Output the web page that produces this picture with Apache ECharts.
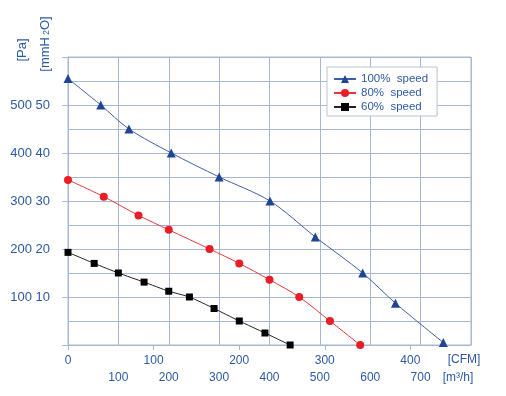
<!DOCTYPE html>
<html>
<head>
<meta charset="utf-8">
<script src="https://cdn.jsdelivr.net/npm/echarts@6/dist/echarts.min.js"></script>
<style>html,body{margin:0;padding:0;background:#fff}#c{width:506px;height:396px}</style>
</head>
<body>
<div id="c"></div>
<script>
// Air flow in m3/h, pressure in Pa
const flow100 = [0, 65, 121, 205, 300, 401, 491, 585, 650, 745];
const pres100 = [555, 500, 450, 400, 350, 300, 225, 150, 87, 5];
const flow80 = [0, 71, 140, 200, 281, 340, 400, 459, 520, 580];
const pres80 = [344, 309, 270, 240, 200, 170, 136, 100, 50, 0];
const flow60 = [0, 52, 100, 151, 200, 241, 290, 340, 391, 441];
const pres60 = [193, 170, 150, 131, 112, 100, 76, 50, 25, 0];
const seriesNames = ['100%  speed', '80%  speed', '60%  speed'];
const cfmTicks = [0, 100, 200, 300, 400];
const m3hTicks = [100, 200, 300, 400, 500, 600, 700];
const paTicks = [100, 200, 300, 400, 500];
const mmTicks = [10, 20, 30, 40, 50];

const BLUE_TXT = '#2d5aa3';
const GRID = '#a6b8d4';
const FONT = '"Liberation Sans", Arial, sans-serif';
const M3H_PER_CFM = 1.699;

function pairs(xs, ys) { return xs.map((x, i) => [x, ys[i]]); }

const chart = echarts.init(document.getElementById('c'), null, {renderer: 'canvas'});
chart.setOption({
  animation: false,
  backgroundColor: '#fff',
  textStyle: {fontFamily: FONT},
  grid: {left: 68, right: 35, top: 57, bottom: 51, show: true, borderColor: GRID, borderWidth: 1, containLabel: false},
  legend: {
    orient: 'vertical', left: 327, top: 67,
    backgroundColor: '#fff', borderColor: '#b9c4d4', borderWidth: 1,
    padding: [6, 9, 3, 6], itemGap: 2, itemWidth: 22, itemHeight: 10,
    textStyle: {color: BLUE_TXT, fontSize: 11.5, fontFamily: FONT},
    data: seriesNames
  },
  xAxis: [
    {
      type: 'value', min: 0, max: 800, interval: 100, position: 'bottom',
      axisLine: {show: true, lineStyle: {color: GRID, width: 1}},
      axisTick: {show: false},
      splitLine: {show: true, lineStyle: {color: GRID, width: 1}},
      axisLabel: {
        margin: 27, color: BLUE_TXT, fontSize: 12, fontFamily: FONT,
        formatter: v => (m3hTicks.indexOf(v) >= 0 ? String(v) : '')
      }
    },
    {
      type: 'value', min: 0, max: 800 / M3H_PER_CFM, interval: 100, position: 'bottom',
      axisLine: {show: false},
      axisTick: {show: true, length: 5, lineStyle: {color: GRID}, customValues: cfmTicks},
      splitLine: {show: false},
      axisLabel: {
        margin: 10, color: BLUE_TXT, fontSize: 12, fontFamily: FONT, customValues: cfmTicks,
        formatter: v => (cfmTicks.indexOf(v) >= 0 ? String(v) : '')
      }
    }
  ],
  yAxis: [
    {
      type: 'value', min: 0, max: 600, interval: 50, position: 'left',
      axisLine: {show: true, lineStyle: {color: GRID}},
      axisTick: {show: false},
      axisLabel: {show: false},
      splitLine: {show: true, lineStyle: {color: GRID, width: 1}}
    },
    {
      type: 'value', min: 0, max: 600, interval: 100, position: 'left',
      axisLine: {show: false},
      axisTick: {show: true, length: 6, lineStyle: {color: GRID}},
      splitLine: {show: false},
      axisLabel: {
        margin: 36, color: BLUE_TXT, fontSize: 13, fontFamily: FONT,
        formatter: v => (paTicks.indexOf(v) >= 0 ? String(v) : '')
      }
    },
    {
      type: 'value', min: 0, max: 60, interval: 10, position: 'left',
      axisLine: {show: false},
      axisTick: {show: false},
      splitLine: {show: false},
      axisLabel: {
        margin: 18, color: BLUE_TXT, fontSize: 13, fontFamily: FONT,
        formatter: v => (mmTicks.indexOf(v) >= 0 ? String(v) : '')
      }
    }
  ],
  graphic: [
    {type: 'text', x: 22, y: 50, rotation: Math.PI / 2,
     style: {text: '[Pa]', fill: BLUE_TXT, font: '13px ' + FONT, align: 'center', verticalAlign: 'middle'}},
    {type: 'text', x: 45, y: 44, rotation: Math.PI / 2,
     style: {text: '[mmH{s|2}O]', fill: BLUE_TXT, font: '13px ' + FONT, align: 'center', verticalAlign: 'middle',
             rich: {s: {fontSize: 9, fill: BLUE_TXT, verticalAlign: 'bottom', padding: [4, 0, 0, 2], fontFamily: FONT}}}},
    {type: 'text', x: 464, y: 360,
     style: {text: '[CFM]', fill: BLUE_TXT, font: '12px ' + FONT, align: 'center', verticalAlign: 'middle'}},
    {type: 'text', x: 458, y: 378,
     style: {text: '[m³/h]', fill: BLUE_TXT, font: '12px ' + FONT, align: 'center', verticalAlign: 'middle'}}
  ],
  series: [
    {
      name: seriesNames[0], type: 'line', xAxisIndex: 0, yAxisIndex: 0,
      data: pairs(flow100, pres100), smooth: 0.3,
      symbol: 'triangle', symbolSize: 9,
      lineStyle: {color: '#3d5fa6', width: 1},
      itemStyle: {color: '#1f4597'}
    },
    {
      name: seriesNames[1], type: 'line', xAxisIndex: 0, yAxisIndex: 0,
      data: pairs(flow80, pres80), smooth: 0.3,
      symbol: 'circle', symbolSize: 8,
      lineStyle: {color: '#e5383b', width: 1},
      itemStyle: {color: '#e81d25'}
    },
    {
      name: seriesNames[2], type: 'line', xAxisIndex: 0, yAxisIndex: 0,
      data: pairs(flow60, pres60), smooth: 0.2,
      symbol: 'rect', symbolSize: 7,
      lineStyle: {color: '#222', width: 1},
      itemStyle: {color: '#000'}
    }
  ]
});
</script>
</body>
</html>
